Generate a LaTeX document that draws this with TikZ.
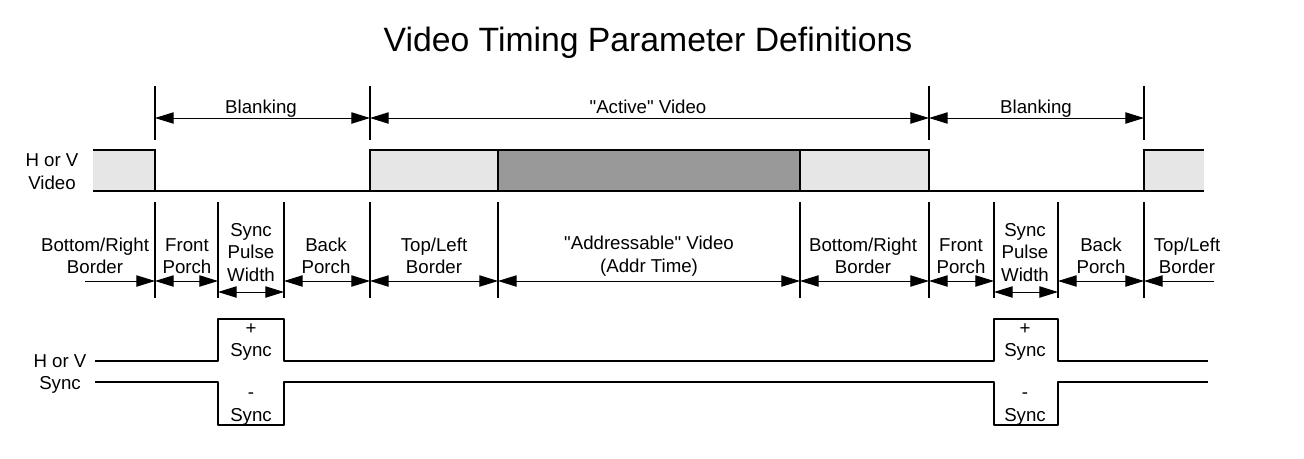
\documentclass[tikz,border=0pt]{standalone}
\usepackage{fontspec}
\setmainfont{Liberation Sans}[Ligatures=TeXOff]
\usetikzlibrary{arrows.meta,positioning}
\definecolor{lightfill}{HTML}{E6E6E6}
\definecolor{darkfill}{HTML}{999999}

\begin{document}
\begin{tikzpicture}
  [x=0.75pt,y=-0.75pt,
   lbl/.style={font=\fontsize{14}{16.8}\selectfont,align=center,inner sep=0pt},
   spanN/.style={lbl,anchor=base},
   titleN/.style={font=\fontsize{25.3}{30}\selectfont,inner sep=0pt},
   dim/.style={<->,>={Triangle[length=14pt,width=8.5pt]},line width=0.75pt},
   dimr/.style={->,>={Triangle[length=14pt,width=8.5pt]},line width=0.75pt},
   tick/.style={line width=1.1pt},
   wave/.style={line width=1.5pt},
   base/.style={line width=2.2pt},
   sig/.style={line width=2.2pt,line join=round}]

  \useasboundingbox (0,0) rectangle (1304,458);

  \node[titleN] (title) at (648,43) {Video Timing Parameter Definitions};

  % top ticks and blanking / active arrows
  \foreach \n/\x in {a/155,d/370,g/929,j/1144} {
    \coordinate (\n-1) at (\x,86);
    \coordinate (\n-2) at (\x,140);
    \coordinate (\n-3) at (\x,118);
    \draw [tick] (\n-1) -- (\n-2);
  }
  \draw [dim] (a-3) -- (d-3);
  \draw [dim] (d-3) -- (g-3);
  \draw [dim] (g-3) -- (j-3);

  \node[spanN] (blank1) at (261,113) {Blanking};
  \node[spanN] (active) at (648,113) {"Active" Video};
  \node[spanN] (blank2) at (1036,113) {Blanking};

  % video waveform
  \node[lbl] (vidN) at (52,171.5) {H or V\\Video};
  \fill [lightfill] (93,150) rectangle (155,191);
  \fill [lightfill] (370,150) rectangle (498,191);
  \fill [darkfill] (498,150) rectangle (800,191);
  \fill [lightfill] (800,150) rectangle (929,191);
  \fill [lightfill] (1144,150) rectangle (1204,191);
  \draw [wave] (93,150) -- (155,150) -- (155,191);
  \draw [wave] (370,191) -- (370,150) -- (929,150) -- (929,191);
  \draw [wave] (1144,191) -- (1144,150) -- (1204,150);
  \draw [wave] (498,150) -- (498,191);
  \draw [wave] (800,150) -- (800,191);
  \draw [base] (93,191) -- (1204,191);

  % lower ticks
  \foreach \n/\x in {a/155,b/218,c/284,d/370,e/498,f/800,g/929,h/994,i/1058,j/1144} {
    \coordinate (\n-t) at (\x,202);
    \coordinate (\n-b) at (\x,298);
    \coordinate (\n-m) at (\x,281);
    \coordinate (\n-s) at (\x,292);
    \draw [tick] (\n-t) -- (\n-b);
  }
  \coordinate (l-m) at (85,281);
  \coordinate (r-m) at (1214,281);

  \draw [dimr] (l-m) -- (a-m);
  \draw [dim] (a-m) -- (b-m);
  \draw [dim] (b-s) -- (c-s);
  \draw [dim] (c-m) -- (d-m);
  \draw [dim] (d-m) -- (e-m);
  \draw [dim] (e-m) -- (f-m);
  \draw [dim] (f-m) -- (g-m);
  \draw [dim] (g-m) -- (h-m);
  \draw [dim] (h-s) -- (i-s);
  \draw [dim] (i-m) -- (j-m);
  \draw [dimr] (r-m) -- (j-m);

  \node[lbl] (brb1) at (95,256) {Bottom/Right\\Border};
  \node[lbl] (fp1)  at (187,256) {Front\\Porch};
  \node[lbl] (spw1) at (251,252.5) {Sync\\Pulse\\Width};
  \node[lbl] (bp1)  at (326,256) {Back\\Porch};
  \node[lbl] (tlb1) at (434,256) {Top/Left\\Border};
  \node[lbl] (addr) at (649,256) {"Addressable" Video\\(Addr Time)};
  \node[lbl] (brb2) at (863,256) {Bottom/Right\\Border};
  \node[lbl] (fp2)  at (961,256) {Front\\Porch};
  \node[lbl] (spw2) at (1025,252.5) {Sync\\Pulse\\Width};
  \node[lbl] (bp2)  at (1101,256) {Back\\Porch};
  \node[lbl] (tlb2) at (1187,256) {Top/Left\\Border};

  % sync waveforms
  \node[lbl] (syncN) at (60,374) {H or V\\Sync};
  \draw [sig] (95,361) -| (218,319) -| (284,361) -| (994,319) -| (1058,361) -- (1208,361);
  \draw [sig] (95,382) -| (218,425) -| (284,382) -| (994,425) -| (1058,382) -- (1208,382);

  \node[lbl] (pos1) at (251,342) {+\\Sync};
  \node[lbl] (neg1) at (251,409) {-\\Sync};
  \node[lbl] (pos2) at (1025,342) {+\\Sync};
  \node[lbl] (neg2) at (1025,409) {-\\Sync};
\end{tikzpicture}
\end{document}
